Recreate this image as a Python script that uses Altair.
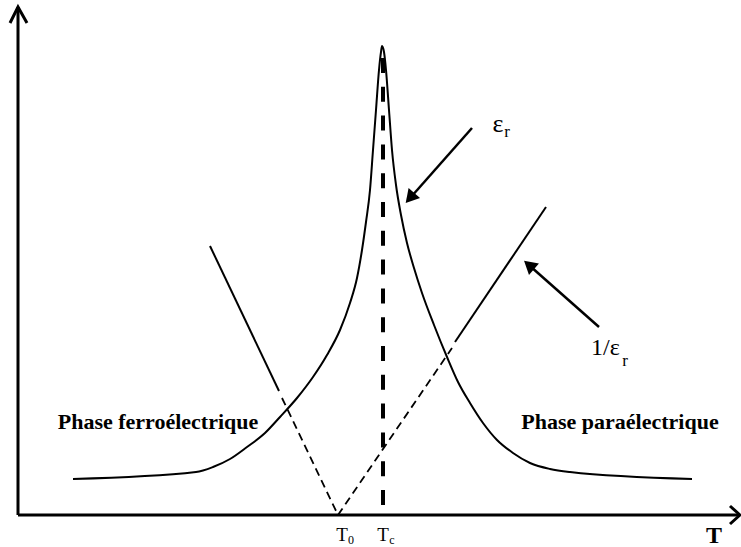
import altair as alt
import pandas as pd

# Coordinates: T along the horizontal axis, E (permittivity scale) along the vertical one.
# The origin sits where the two axes cross.

# Axes and their open arrowheads
x_axis_T = [0, 722]
x_axis_E = [0, 0]
y_axis_T = [0, 0]
y_axis_E = [0, 508]
x_head_T = [712, 722, 712]
x_head_E = [9, 0, -9]
y_head_T = [-8, 0, 9]
y_head_E = [492, 508, 492]

# Permittivity curve epsilon_r(T) with its sharp peak at Tc
eps_T = [55, 178, 195, 212, 229, 247, 262, 279, 295, 309, 322, 332, 339, 344, 348,
         352, 355, 358, 361, 363, 364, 366, 368, 371, 374, 378, 383, 389, 396, 404,
         416, 429, 440, 452, 465, 479, 495, 512, 532, 552, 674]
eps_E = [36, 43, 48, 56, 68, 82, 98, 117, 138, 160, 185, 212, 237, 265, 293,
         325, 365, 405, 445, 463, 469, 463, 445, 405, 365, 330, 300, 272, 247, 222,
         190, 158, 133, 112, 92, 75, 62, 52, 46, 43, 36]

# Inverse permittivity 1/epsilon_r: solid measured parts, dashed extrapolations to T0
T0 = 320
Tc = 365
inv_left_T = [192, 261]
inv_left_E = [269, 124]
inv_left_dash_T = [264, T0]
inv_left_dash_E = [117, 0]
inv_right_dash_T = [T0, 434]
inv_right_dash_E = [0, 167]
inv_right_T = [437, 528]
inv_right_E = [173, 308]

# Curie temperature marker
tc_T = [Tc, Tc]
tc_E = [457, 0]

# Pointer arrows to the two curves
arrow_eps_T = [454, 393]
arrow_eps_E = [387, 318]
arrow_inv_T = [581, 512]
arrow_inv_E = [188, 249]
head_T = [392, 511]
head_E = [317, 250]
head_angle = [221, 311]

# Text labels
phase_text = ["Phase ferroélectrique", "Phase paraélectrique"]
phase_T = [140, 602]
phase_E = [93, 93]

X = alt.Scale(domain=[-18, 723], nice=False, zero=False)
Y = alt.Scale(domain=[-32, 515], nice=False, zero=False)
FONT = "Liberation Serif"


def frame(t, e, **extra):
    d = {"T": t, "E": e, "i": list(range(len(t)))}
    d.update(extra)
    return pd.DataFrame(d)


def path(t, e, width=2.0, dash=None, interp="linear"):
    kw = dict(color="black", strokeWidth=width, interpolate=interp, strokeCap="butt")
    if dash:
        kw["strokeDash"] = dash
    return alt.Chart(frame(t, e)).mark_line(**kw).encode(
        x=alt.X("T:Q", scale=X, axis=None),
        y=alt.Y("E:Q", scale=Y, axis=None),
        order="i:O",
    )


def label(text, t, e, size, bold=False, align="center"):
    return alt.Chart(frame([t], [e], s=[text])).mark_text(
        font=FONT, fontSize=size, fontWeight="bold" if bold else "normal",
        align=align, baseline="middle", color="black",
    ).encode(x=alt.X("T:Q", scale=X, axis=None), y=alt.Y("E:Q", scale=Y, axis=None), text="s:N")


layers = [
    path(x_axis_T, x_axis_E, 3),
    path(y_axis_T, y_axis_E, 3),
    path(x_head_T, x_head_E, 3),
    path(y_head_T, y_head_E, 3),
    path(eps_T, eps_E, 2, interp="monotone"),
    path(inv_left_T, inv_left_E, 2),
    path(inv_left_dash_T, inv_left_dash_E, 1.8, dash=[8, 5]),
    path(inv_right_dash_T, inv_right_dash_E, 1.8, dash=[8, 5]),
    path(inv_right_T, inv_right_E, 2),
    path(tc_T, tc_E, 4, dash=[15, 13.8]),
    path(arrow_eps_T, arrow_eps_E, 2.5),
    path(arrow_inv_T, arrow_inv_E, 2.5),
    alt.Chart(frame(head_T, head_E, a=head_angle)).mark_point(
        shape="triangle-up", filled=True, color="black", opacity=1, size=230,
    ).encode(
        x=alt.X("T:Q", scale=X, axis=None),
        y=alt.Y("E:Q", scale=Y, axis=None),
        angle=alt.Angle("a:Q", scale=None),
    ),
    alt.Chart(frame(phase_T, phase_E, s=phase_text)).mark_text(
        font=FONT, fontSize=22, fontWeight="bold", align="center", baseline="middle", color="black",
    ).encode(x=alt.X("T:Q", scale=X, axis=None), y=alt.Y("E:Q", scale=Y, axis=None), text="s:N"),
    label("T", 696, -21, 24, bold=True),
    label("T", 324, -20, 19),
    label("0", 333, -25, 12),
    label("T", 365, -20, 19),
    label("c", 374, -25, 12),
    label("ε", 480, 391, 26),
    label("r", 489, 383, 17),
    label("1/ε", 573, 167, 24, align="left"),
    label("r", 607, 154, 17),
]

chart = alt.layer(*layers).properties(
    width=741, height=547, padding=0, autosize="none",
).configure_view(stroke=None)

chart.save("out.html", embed_options={"renderer": "svg", "actions": False})
